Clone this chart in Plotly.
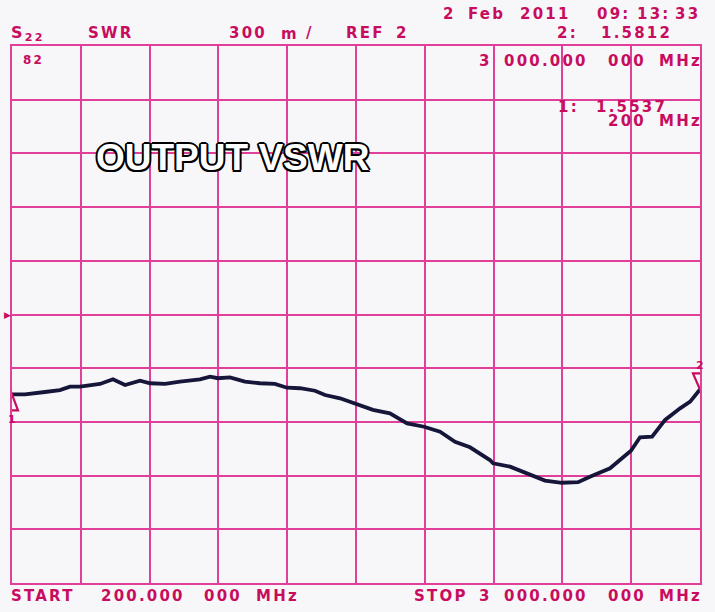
import plotly.graph_objects as go

# ---------------- data ----------------
freq_mhz = [200, 253, 334, 395, 436, 477, 558, 611, 660, 721, 762, 823, 884, 965,
            1006, 1038, 1087, 1148, 1209, 1270, 1319, 1372, 1433, 1474, 1535, 1596,
            1669, 1738, 1808, 1877, 1942, 2003, 2064, 2145, 2158, 2227, 2308, 2369,
            2438, 2504, 2552, 2634, 2719, 2756, 2805, 2858, 2919, 2960, 3000]
swr = [1.5537, 1.554, 1.567, 1.578, 1.597, 1.597, 1.612, 1.638, 1.606, 1.630, 1.616,
       1.612, 1.625, 1.638, 1.653, 1.644, 1.649, 1.625, 1.616, 1.612, 1.591, 1.588,
       1.574, 1.550, 1.532, 1.504, 1.467, 1.448, 1.392, 1.373, 1.345, 1.289, 1.258,
       1.187, 1.169, 1.150, 1.103, 1.072, 1.060, 1.063, 1.094, 1.141, 1.239, 1.314,
       1.317, 1.411, 1.476, 1.513, 1.5812]

marker_freq = [200, 3000]
marker_swr = [1.5537, 1.5812]
marker_names = ["1", "2"]

start_mhz = 200
stop_mhz = 3000
ref_level = 2.0
scale_per_div = 0.3
n_div = 10

# header / footer texts (text, left px, centre y px, font size)
label_specs = [
    ("S<sub>22</sub>", 9, 33, 16),
    ("SWR", 86, 33, 15),
    ("300", 227, 33, 15), ("m", 279, 34, 15), ("/", 304, 33, 15),
    ("REF", 344, 33, 15), ("2", 394, 33, 15),
    ("2", 441, 14, 15), ("Feb", 466, 14, 15), ("2011", 518, 14, 15),
    ("09:", 595, 14, 15), ("13:", 635, 14, 15), ("33", 673, 14, 15),
    ("2:", 555, 33, 15), ("1.5812", 599, 33, 15),
    ("3", 477, 61, 15), ("000.000", 502, 61, 15), ("000", 606, 61, 15), ("MHz", 657, 61, 15),
    ("1:", 556, 107, 15), ("1.5537", 594, 107, 15),
    ("200", 606, 121, 15), ("MHz", 657, 121, 15),
    ("82", 21, 60, 12),
    ("START", 9, 596, 15), ("200.000", 99, 596, 15), ("000", 202, 596, 15), ("MHz", 254, 596, 15),
    ("STOP", 412, 596, 15), ("3", 477, 596, 15), ("000.000", 502, 596, 15),
    ("000", 606, 596, 15), ("MHz", 657, 596, 15),
]

# ---------------- style ----------------
W, H = 715, 612
PL, PR, PT, PB = 12, 700, 46, 583
bg = "#f7f7fa"
grid_col = "#e0409a"
text_col = "#c80c5e"
trace_col = "#16163a"
font_fam = "DejaVu Sans"

fig = go.Figure()
fig.add_trace(go.Scatter(x=freq_mhz, y=swr, mode="lines",
                         line=dict(color=trace_col, width=3.8), hoverinfo="skip"))

y_lo = ref_level - scale_per_div * n_div / 2
y_hi = ref_level + scale_per_div * n_div / 2
x_step = (stop_mhz - start_mhz) / n_div

fig.update_xaxes(range=[start_mhz, stop_mhz], domain=[PL / W, PR / W],
                 tick0=start_mhz, dtick=x_step, showticklabels=False, ticks="",
                 showgrid=True, gridcolor=grid_col, gridwidth=2,
                 showline=True, linecolor=grid_col, linewidth=2, mirror=True,
                 zeroline=False)
fig.update_yaxes(range=[y_lo, y_hi], domain=[1 - PB / H, 1 - PT / H],
                 tick0=y_lo, dtick=scale_per_div, showticklabels=False, ticks="",
                 showgrid=True, gridcolor=grid_col, gridwidth=2,
                 showline=True, linecolor=grid_col, linewidth=2, mirror=True,
                 zeroline=False)

annotations = []
for txt, px, py, fs in label_specs:
    annotations.append(dict(
        text=f'<span style="letter-spacing:2.2px">{txt}</span>',
        xref="paper", yref="paper", x=px / W, y=1 - py / H,
        xanchor="left", yanchor="middle", showarrow=False,
        font=dict(family=font_fam, size=fs, color=text_col, weight="bold")))

# title
annotations.append(dict(
    text="OUTPUT VSWR", xref="paper", yref="paper", x=232 / W, y=1 - 157 / H,
    xanchor="center", yanchor="middle", showarrow=False,
    font=dict(family="Liberation Sans", size=37, color="white", weight="bold",
              shadow=("2px 0 0 #000, -2px 0 0 #000, 0 2px 0 #000, 0 -2px 0 #000, "
                      "1.5px 1.5px 0 #000, -1.5px -1.5px 0 #000, "
                      "1.5px -1.5px 0 #000, -1.5px 1.5px 0 #000"))))

# reference level marker on left edge
annotations.append(dict(
    text="▶", xref="paper", yref="y", x=PL / W, y=ref_level,
    xanchor="right", yanchor="middle", showarrow=False, xshift=1,
    font=dict(family=font_fam, size=9, color=text_col)))

# marker numbers
annotations.append(dict(
    text="<b>" + marker_names[0] + "</b>", xref="x", yref="y", x=marker_freq[0], y=marker_swr[0],
    xanchor="center", yanchor="top", showarrow=False, yshift=-17,
    font=dict(family=font_fam, size=11, color=text_col)))
annotations.append(dict(
    text="<b>" + marker_names[1] + "</b>", xref="x", yref="y", x=marker_freq[1], y=marker_swr[1],
    xanchor="center", yanchor="bottom", showarrow=False, yshift=15,
    font=dict(family=font_fam, size=11, color=text_col)))

shapes = [
    dict(type="path", xref="x", yref="y", xsizemode="pixel", ysizemode="pixel",
         xanchor=marker_freq[0], yanchor=marker_swr[0],
         path="M0,0 L-6,-16 L6,-16 Z", line=dict(color=text_col, width=2.2),
         fillcolor="rgba(0,0,0,0)"),
    dict(type="path", xref="x", yref="y", xsizemode="pixel", ysizemode="pixel",
         xanchor=marker_freq[1], yanchor=marker_swr[1],
         path="M0,0 L-7,16 L7,16 Z", line=dict(color=text_col, width=2.2),
         fillcolor="rgba(0,0,0,0)"),
]

fig.update_layout(width=W, height=H, autosize=False,
                  margin=dict(l=0, r=0, t=0, b=0),
                  paper_bgcolor=bg, plot_bgcolor=bg, showlegend=False,
                  annotations=annotations, shapes=shapes)

fig.write_html("out.html", config={"displayModeBar": False},
               post_script="document.body.style.margin='0';document.body.style.overflow='hidden';")
